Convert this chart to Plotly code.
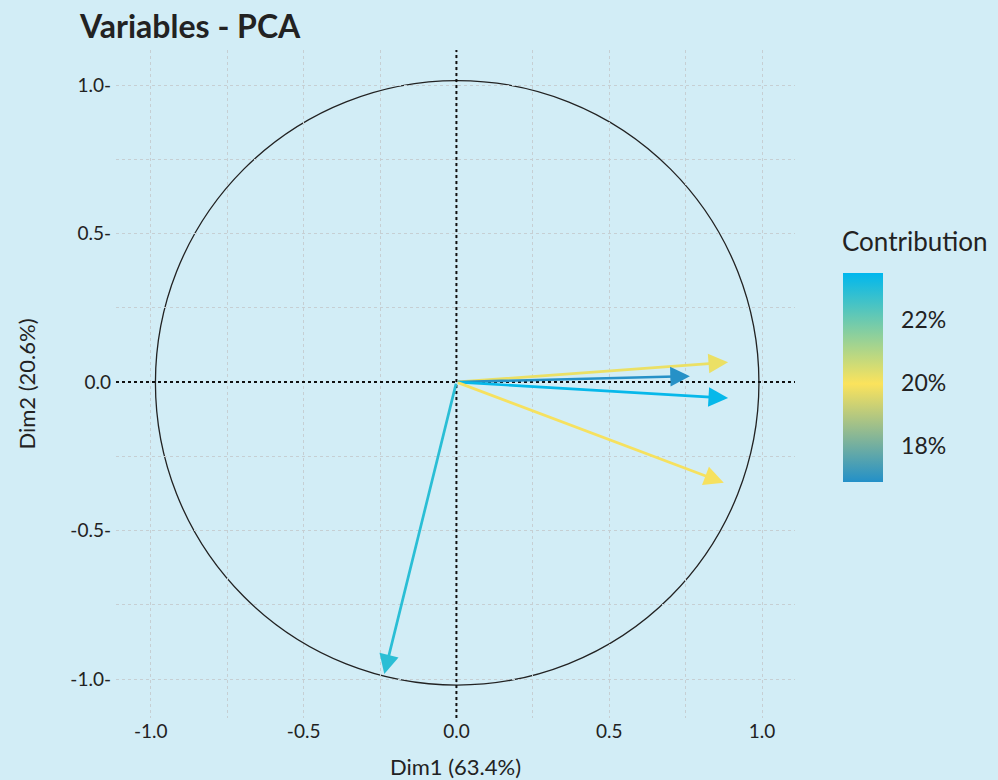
import plotly.graph_objects as go
from plotly.colors import sample_colorscale

# PCA variable coordinates (Dim1, Dim2) and contribution (%)
dim1 = [0.889, 0.764, 0.889, 0.875, -0.236]
dim2 = [0.067, 0.020, -0.054, -0.339, -0.983]
contrib = [20.2, 16.9, 23.4, 19.9, 22.9]

# tick labels
x_tickvals = [-1.0, -0.5, 0.0, 0.5, 1.0]
x_ticktext = ["-1.0", "-0.5", "0.0", "0.5", "1.0"]
y_tickvals = [-1.0, -0.5, 0.0, 0.5, 1.0]
y_ticktext = ["-1.0-", "-0.5-", "0.0", "0.5-", "1.0-"]
cb_tickvals = [18, 20, 22]
cb_ticktext = ["18%", "20%", "22%"]

cmin, cmax = 16.86, 23.49
colorscale = [[0.0, "rgb(35,144,200)"], [0.47, "rgb(251,227,92)"], [1.0, "rgb(0,183,238)"]]
bg = "#d2edf6"
font = "Lato"
grid = "#c6cfd3"

fig = go.Figure()

# invisible trace carrying the colourbar
fig.add_trace(go.Scatter(
    x=dim1, y=dim2, mode="markers",
    marker=dict(size=0.1, opacity=0, color=contrib, colorscale=colorscale,
                cmin=cmin, cmax=cmax, showscale=True,
                colorbar=dict(
                    x=1.0707, xanchor="left", y=0.5097, yanchor="middle",
                    xpad=0, ypad=0,
                    len=209, lenmode="pixels", thickness=40,
                    outlinewidth=0, ticks="outside", ticklen=14,
                    tickcolor="rgba(0,0,0,0)",
                    tickvals=cb_tickvals, ticktext=cb_ticktext,
                    tickfont=dict(size=23, color="#222", family=font),
                )),
    hoverinfo="skip", showlegend=False,
))

fig.add_annotation(text="Contribution", xref="paper", yref="paper", x=1.067, y=0.714,
                   xanchor="left", yanchor="middle", showarrow=False,
                   font=dict(size=26, color="#222", family=font))

# correlation circle
fig.add_shape(type="circle", xref="x", yref="y", x0=-0.985, y0=-1.02, x1=0.99, y1=1.015,
              line=dict(color="#222", width=1.3), layer="below")

# arrows
for x, y, c in zip(dim1, dim2, contrib):
    t = min(max((c - cmin) / (cmax - cmin), 0.0), 1.0)
    col = sample_colorscale(colorscale, [t])[0]
    fig.add_annotation(x=x, y=y, ax=0, ay=0, xref="x", yref="y", axref="x", ayref="y",
                       showarrow=True, arrowhead=2, arrowsize=1.45, arrowwidth=2.7,
                       arrowcolor=col, text="")

axis_common = dict(
    showgrid=True, gridcolor=grid, griddash="dot", gridwidth=0.9,
    zeroline=False, showline=False, ticks="", automargin=False,
    tickfont=dict(size=19, color="#222", family=font),
    title_font=dict(size=22, color="#222", family=font),
    minor=dict(dtick=0.25, tick0=0, showgrid=True, gridcolor=grid, griddash="dot", gridwidth=0.9),
)

fig.update_xaxes(range=[-1.114, 1.108], title_text="Dim1 (63.4%)",
                 tickvals=x_tickvals, ticktext=x_ticktext,
                 title_standoff=20, **axis_common)
fig.update_yaxes(range=[-1.131, 1.118], title_text="Dim2 (20.6%)",
                 tickvals=y_tickvals, ticktext=y_ticktext, ticklabelstandoff=4,
                 title_standoff=28, **axis_common)

# dotted reference lines through origin
fig.add_hline(y=0, line=dict(color="#111", width=2, dash="dot"))
fig.add_vline(x=0, line=dict(color="#111", width=2, dash="dot"))

fig.update_layout(
    width=998, height=780,
    margin=dict(l=116, r=203, t=50, b=62, autoexpand=False),
    paper_bgcolor=bg, plot_bgcolor=bg,
    title=dict(text="<b>Variables - PCA</b>", x=80 / 998, xanchor="left",
               y=1 - 27 / 780, yanchor="middle", pad=dict(l=0, t=0),
               font=dict(size=32, color="#222", family=font)),
    font=dict(family=font),
)

fig.write_html("out.html", config={"displayModeBar": False},
               post_script="document.body.style.margin='0';"
                           "document.body.style.background='" + bg + "';")
